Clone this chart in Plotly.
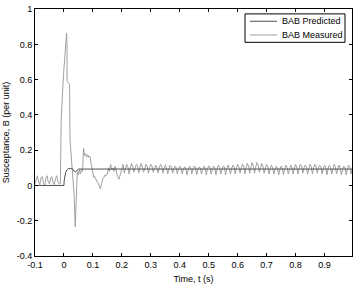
import numpy as np
import plotly.graph_objects as go

# ---------------- data ----------------
# Measured: pre-fault segment (uniform 1/240 s grid starting at -0.1 s)
pre_start = -0.1
pre_step = 1 / 240
pre_vals = [0.01, 0.04, 0.055, 0.02, 0.005, 0.045, 0.05, 0.015, 0.0, 0.04,
            0.055, 0.02, 0.01, 0.045, 0.05, 0.015, 0.005, 0.04, 0.055, 0.02, 0.01]

# Measured: transient segment (explicit samples)
tr_t = [-0.0125, -0.0118, -0.0094, -0.0014, 0.007, 0.0091, 0.0105, 0.0108, 0.016,
        0.0195, 0.0209, 0.023, 0.026, 0.030, 0.035, 0.039, 0.043, 0.046, 0.05,
        0.053, 0.057, 0.06, 0.064, 0.068, 0.071, 0.075, 0.078, 0.082, 0.086,
        0.09, 0.093, 0.097, 0.100, 0.103, 0.107, 0.11, 0.114, 0.118, 0.122,
        0.126, 0.13, 0.134, 0.138, 0.142, 0.146, 0.15, 0.154, 0.157, 0.161,
        0.165, 0.169, 0.173, 0.177, 0.181, 0.185, 0.19, 0.194, 0.197]
tr_B = [0.01, 0.21, 0.38, 0.63, 0.86, 0.865, 0.79, 0.59, 0.58,
        0.57, 0.26, 0.21, 0.12, 0.08, -0.05, -0.235, 0.03, 0.08, 0.06,
        0.09, 0.065, 0.09, 0.08, 0.21, 0.17, 0.18, 0.16, 0.175, 0.16,
        0.165, 0.13, 0.1, 0.07, 0.045, 0.05, 0.03, 0.02, 0.015, 0.0,
        -0.02, 0.01, 0.04, 0.045, 0.06, 0.055, 0.065, 0.1, 0.08, 0.12,
        0.09, 0.1, 0.08, 0.11, 0.07, 0.05, 0.035, 0.06, 0.075]

# Measured: steady segment (uniform 1/240 s grid starting at 0.2 s)
ss_start = 0.2
ss_step = 1 / 240
ss_vals = [
    0.11, 0.12, 0.07, 0.095, 0.12, 0.105, 0.065, 0.1, 0.125, 0.11, 0.075, 0.1,
    0.12, 0.115, 0.07, 0.1, 0.125, 0.105, 0.075, 0.095, 0.12, 0.11, 0.07, 0.1,
    0.12, 0.11, 0.075, 0.095, 0.115, 0.105, 0.07, 0.1, 0.12, 0.11, 0.07, 0.095,
    0.115, 0.1, 0.065, 0.095, 0.115, 0.105, 0.07, 0.09, 0.11, 0.1, 0.065, 0.095,
    0.11, 0.1, 0.065, 0.09, 0.105, 0.1, 0.06, 0.09, 0.11, 0.1, 0.065, 0.095,
    0.11, 0.105, 0.06, 0.09, 0.105, 0.1, 0.065, 0.09, 0.11, 0.1, 0.06, 0.095,
    0.11, 0.105, 0.065, 0.09, 0.11, 0.1, 0.06, 0.095, 0.115, 0.1, 0.065, 0.09,
    0.11, 0.105, 0.06, 0.095, 0.115, 0.1, 0.065, 0.095, 0.115, 0.105, 0.065, 0.1,
    0.12, 0.105, 0.07, 0.1, 0.12, 0.11, 0.065, 0.1, 0.125, 0.11, 0.07, 0.105,
    0.13, 0.11, 0.07, 0.105, 0.13, 0.115, 0.075, 0.1, 0.125, 0.11, 0.07, 0.1,
    0.12, 0.105, 0.065, 0.095, 0.115, 0.1, 0.065, 0.09, 0.11, 0.1, 0.06, 0.09,
    0.11, 0.1, 0.06, 0.095, 0.115, 0.1, 0.065, 0.09, 0.115, 0.105, 0.065, 0.095,
    0.12, 0.105, 0.065, 0.1, 0.12, 0.11, 0.07, 0.1, 0.115, 0.105, 0.065, 0.095,
    0.12, 0.105, 0.065, 0.1, 0.12, 0.11, 0.07, 0.1, 0.115, 0.105, 0.065, 0.095,
    0.115, 0.105, 0.06, 0.095, 0.115, 0.1, 0.065, 0.095, 0.12, 0.105, 0.065, 0.095,
    0.115, 0.1, 0.06, 0.09, 0.11, 0.1, 0.06, 0.095, 0.115, 0.105, 0.065, 0.095,
    0.1,
]

# Predicted
pred_t = [-0.1, 0.0, 0.001, 0.003, 0.006, 0.01, 0.015, 0.022, 0.03, 0.035,
          0.04, 0.045, 0.05, 1.0]
pred_B = [0.0, 0.0, 0.03, 0.055, 0.075, 0.088, 0.095, 0.097, 0.094, 0.08,
          0.078, 0.085, 0.093, 0.093]

series_names = ["BAB Predicted", "BAB Measured"]
x_ticks = [-0.1, 0, 0.1, 0.2, 0.3, 0.4, 0.5, 0.6, 0.7, 0.8, 0.9]
x_tick_labels = ["-0.1", "0", "0.1", "0.2", "0.3", "0.4", "0.5", "0.6", "0.7", "0.8", "0.9"]
y_ticks = [-0.4, -0.2, 0, 0.2, 0.4, 0.6, 0.8, 1]
y_tick_labels = ["-0.4", "-0.2", "0", "0.2", "0.4", "0.6", "0.8", "1"]

# ---------------- assemble ----------------
pre_t = [pre_start + i * pre_step for i in range(len(pre_vals))]
ss_t = [ss_start + i * ss_step for i in range(len(ss_vals))]
meas_t = pre_t + tr_t + ss_t
meas_B = pre_vals + tr_B + ss_vals

FONT = "Liberation Sans, Arial, Helvetica, sans-serif"
PRED_COLOR = "#505050"
MEAS_COLOR = "#a0a0a0"

fig = go.Figure()
fig.add_trace(go.Scatter(x=meas_t, y=meas_B, mode="lines", name=series_names[1],
                         line=dict(color=MEAS_COLOR, width=1), showlegend=False))
fig.add_trace(go.Scatter(x=pred_t, y=pred_B, mode="lines", name=series_names[0],
                         line=dict(color=PRED_COLOR, width=1), showlegend=False))

axis_common = dict(showline=True, linecolor="black", linewidth=1, mirror="ticks",
                   ticks="inside", ticklen=3, tickcolor="black", showgrid=False,
                   zeroline=False, ticklabeloverflow="allow",
                   tickfont=dict(family=FONT, size=9, color="black"))

# plot area in pixels: x 35..352, y 4..256
L, R, T, B = 35, 352, 4, 256
def px(x):
    return (x - L) / (R - L)
def py(y):
    return (B - y) / (B - T)

shapes = [
    dict(type="rect", xref="paper", yref="paper", x0=px(245), x1=px(345),
         y0=py(38), y1=py(9), line=dict(color="black", width=1), fillcolor="white",
         layer="above"),
    dict(type="line", xref="paper", yref="paper", x0=px(250), x1=px(277),
         y0=py(16.5), y1=py(16.5), line=dict(color=PRED_COLOR, width=1), layer="above"),
    dict(type="line", xref="paper", yref="paper", x0=px(250), x1=px(277),
         y0=py(30.5), y1=py(30.5), line=dict(color=MEAS_COLOR, width=1), layer="above"),
]
annotations = [
    dict(text=series_names[0], xref="paper", yref="paper", x=px(280), y=py(16.5),
         xanchor="left", yanchor="middle", showarrow=False,
         font=dict(family=FONT, size=9, color="black")),
    dict(text=series_names[1], xref="paper", yref="paper", x=px(280), y=py(30.5),
         xanchor="left", yanchor="middle", showarrow=False,
         font=dict(family=FONT, size=9, color="black")),
]

fig.update_layout(
    width=358, height=292,
    margin=dict(l=L, r=358 - R, t=T, b=292 - B),
    paper_bgcolor="white", plot_bgcolor="white",
    font=dict(family=FONT, size=9, color="black"),
    xaxis=dict(range=[-0.1, 0.995], tickvals=x_ticks, ticktext=x_tick_labels,
               title=dict(text="Time, t (s)", font=dict(family=FONT, size=9, color="black"), standoff=6),
               **axis_common),
    yaxis=dict(range=[-0.4, 1.0005], tickvals=y_ticks, ticktext=y_tick_labels,
               title=dict(text="Susceptance, B (per unit)", font=dict(family=FONT, size=9, color="black"), standoff=5),
               **axis_common),
    shapes=shapes,
    annotations=annotations,
    showlegend=False,
)

fig.write_html("out.html")
